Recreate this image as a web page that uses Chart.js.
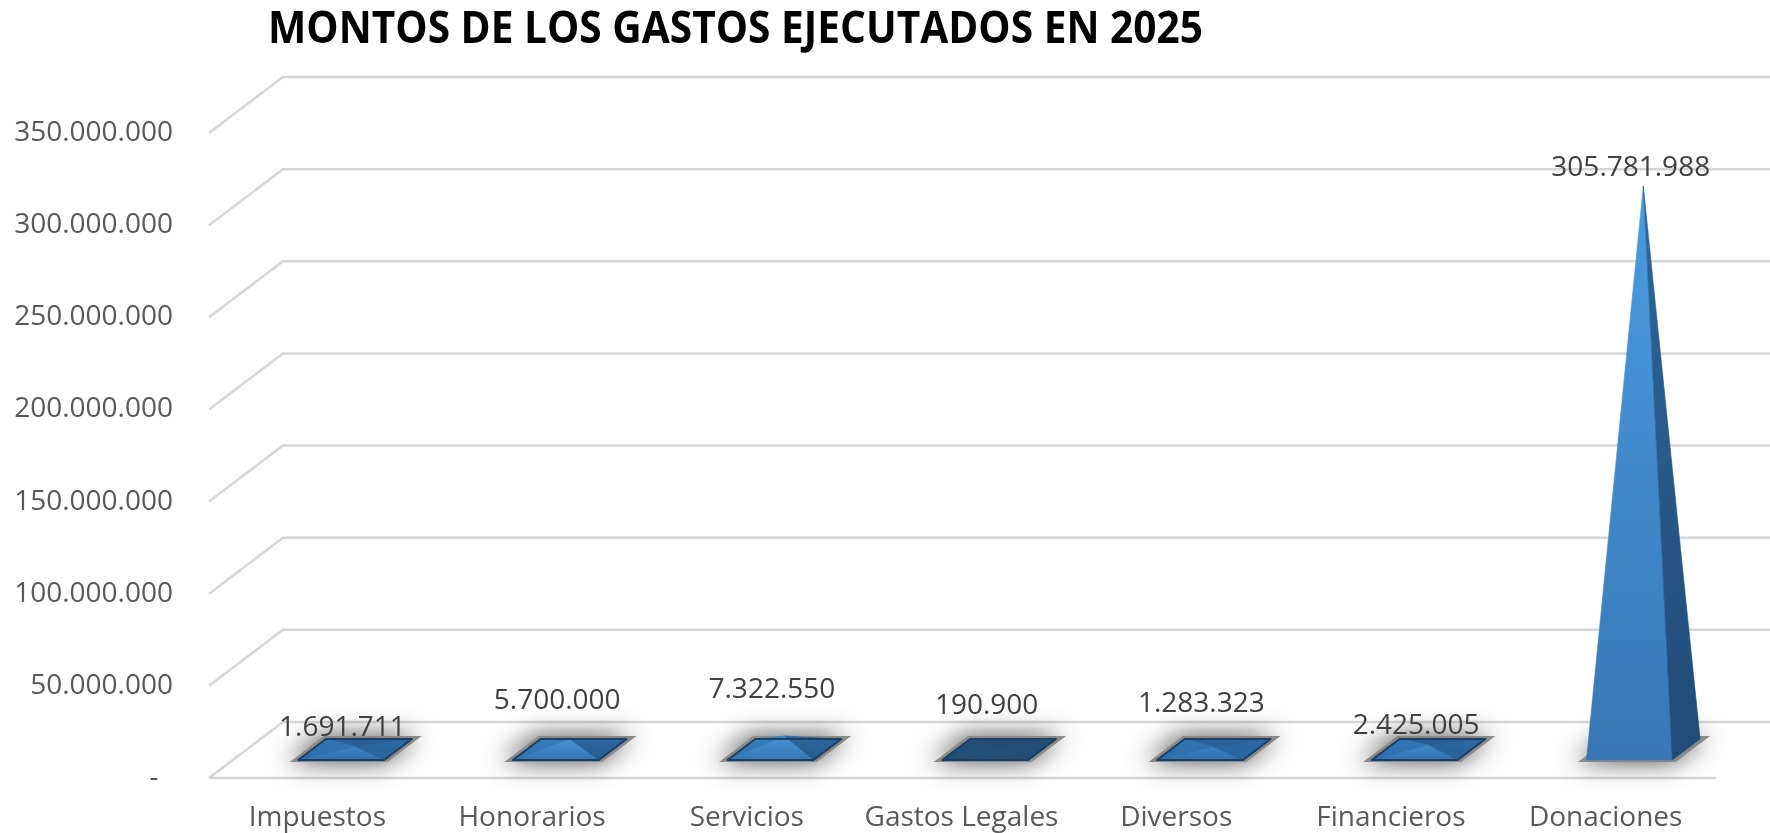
<!DOCTYPE html>
<html>
<head>
<meta charset="utf-8">
<script src="https://cdn.jsdelivr.net/npm/chart.js@4.4.1/dist/chart.umd.min.js"></script>
<style>
html,body{margin:0;padding:0;background:#ffffff;}
#wrap{width:1770px;height:833px;position:relative;}
</style>
</head>
<body>
<div id="wrap"><canvas id="c"></canvas></div>
<script>
// ---- data ----
const chartTitle = 'MONTOS DE LOS GASTOS EJECUTADOS EN 2025';
const categories = ['Impuestos', 'Honorarios', 'Servicios', 'Gastos Legales', 'Diversos', 'Financieros', 'Donaciones'];
const montos = [1691711, 5700000, 7322550, 190900, 1283323, 2425005, 305781988];
const yTickValues = [0, 50000000, 100000000, 150000000, 200000000, 250000000, 300000000, 350000000];

// ---- styling (not data) ----
const labelLift = [47, 66, 74, 72, 72, 47, 46];   // data label distance above value (px)
const DX = 74, DY = 56, KX = DX / DY;              // 3D depth offset
const GRID = '#d6d6d6';
const TITLE_LEFT = 268, TITLE_WIDTH = 935;
const TITLE_FONT = {family: '"Open Sans", sans-serif', size: 45, weight: 'bold', lineHeight: 1.2};

function fmt(v) {
  if (v === 0) return '-  ';
  return String(Math.round(v)).replace(/\B(?=(\d{3})+(?!\d))/g, '.');
}
function hex2rgb(h){h=h.replace('#','');return [parseInt(h.substr(0,2),16),parseInt(h.substr(2,2),16),parseInt(h.substr(4,2),16)];}
function mixRGB(A,B,t){return A.map((x,i)=>x+(B[i]-x)*t);}
function css(c){return 'rgb('+c.map(Math.round).join(',')+')';}
const sub=(a,b)=>[a[0]-b[0],a[1]-b[1],a[2]-b[2]];
const cross=(a,b)=>[a[1]*b[2]-a[2]*b[1],a[2]*b[0]-a[0]*b[2],a[0]*b[1]-a[1]*b[0]];
const dot=(a,b)=>a[0]*b[0]+a[1]*b[1]+a[2]*b[2];

const FLAT = hex2rgb('#2c6aa7');
const DARK = hex2rgb('#1f4468');
const faceColors = {
  front: ['#4a9be2', '#3877b4'].map(hex2rgb),
  right: ['#2e6699', '#214b78'].map(hex2rgb),
  left:  ['#4290d6', '#3375b2'].map(hex2rgb),
  back:  ['#2a5d8e', '#23507e'].map(hex2rgb)
};

const pyramid3d = {
  id: 'pyramid3d',
  afterLayout(chart) {
    const tb = chart.titleBlock;
    if (!tb) return;
    tb.left = TITLE_LEFT;
    if (!tb._squeezed) {
      tb._squeezed = true;
      const orig = tb.draw;
      tb.draw = function () {
        const ctx = this.ctx;
        ctx.save();
        ctx.font = `${TITLE_FONT.weight} ${TITLE_FONT.size}px ${TITLE_FONT.family}`;
        const w = ctx.measureText(chartTitle).width;
        const sx = Math.min(1, TITLE_WIDTH / w);
        ctx.translate(TITLE_LEFT, 0);
        ctx.scale(sx, 1);
        ctx.translate(-TITLE_LEFT, 0);
        orig.apply(this, arguments);
        ctx.restore();
      };
    }
  },
  beforeDatasetsDraw(chart) {
    const {ctx, chartArea, scales} = chart;
    const y = scales.y;
    ctx.save();
    ctx.strokeStyle = GRID;
    ctx.lineWidth = 2.5;
    yTickValues.forEach(v => {
      const yy = y.getPixelForValue(v);
      ctx.beginPath();
      ctx.moveTo(chartArea.left - 1, yy);
      ctx.lineTo(chartArea.left - 1 + DX, yy - DY);
      ctx.lineTo(chart.width, yy - DY);
      ctx.stroke();
    });
    ctx.beginPath();
    ctx.moveTo(chartArea.left - 1, chartArea.bottom);
    ctx.lineTo(chartArea.right + 3, chartArea.bottom);
    ctx.stroke();
    ctx.restore();
  },
  afterDatasetsDraw(chart) {
    const {ctx, chartArea, scales} = chart;
    const x = scales.x, y = scales.y;
    const base = y.getPixelForValue(0);
    const cw = (chartArea.right - chartArea.left) / categories.length;
    const hw = cw * 0.2;
    const z0 = 18, z1 = 39, zc = 28.5;
    const V = [KX, 1, -1];
    ctx.save();
    montos.forEach((v, i) => {
      const cx = x.getPixelForValue(i);
      const h = base - y.getPixelForValue(v);
      const dark = Math.max(0, Math.min(1, 1 - h / 1.5));
      const P = p => [cx + p[0] + p[2] * KX, base - p[1] - p[2]];
      const FL = [-hw, 0, z0], FR = [hw, 0, z0], BR = [hw, 0, z1], BL = [-hw, 0, z1], A = [0, h, zc];
      // soft shadow on floor
      ctx.save();
      ctx.shadowColor = 'rgba(0,0,0,0.7)';
      ctx.shadowBlur = 26;
      ctx.shadowOffsetX = -3;
      ctx.fillStyle = '#8a8a8a';
      ctx.beginPath();
      [[-hw-6,0,z0-2],[hw+6,0,z0-2],[hw+6,0,z1+3],[-hw-6,0,z1+3]].map(P).forEach((q, k) => k ? ctx.lineTo(q[0], q[1]) : ctx.moveTo(q[0], q[1]));
      ctx.closePath();
      ctx.fill();
      ctx.restore();
      // faces
      const faces = [
        {pts: [FL, FR, A], type: 'front'},
        {pts: [FR, BR, A], type: 'right'},
        {pts: [BR, BL, A], type: 'back'},
        {pts: [BL, FL, A], type: 'left'}
      ];
      const pc = [0, h / 4, zc];
      faces.forEach(f => {
        const [a, b, c] = f.pts;
        let n = cross(sub(b, a), sub(c, a));
        const cen = [(a[0]+b[0]+c[0])/3, (a[1]+b[1]+c[1])/3, (a[2]+b[2]+c[2])/3];
        if (dot(n, sub(cen, pc)) < 0) n = n.map(q => -q);
        if (dot(n, V) <= 1e-6) return;
        const len = Math.hypot(n[0], n[1], n[2]);
        const t = Math.sqrt(Math.sqrt(n[0]*n[0] + n[2]*n[2]) / len);
        const cols = faceColors[f.type];
        const sp = f.pts.map(P);
        const topY = Math.min(sp[0][1], sp[1][1], sp[2][1]);
        const botY = Math.max(sp[0][1], sp[1][1], sp[2][1]);
        const g = ctx.createLinearGradient(0, topY, 0, botY + 0.01);
        g.addColorStop(0, css(mixRGB(mixRGB(FLAT, cols[0], t), DARK, dark)));
        g.addColorStop(1, css(mixRGB(mixRGB(FLAT, cols[1], t), DARK, dark)));
        ctx.fillStyle = g;
        ctx.strokeStyle = g;
        ctx.lineWidth = 0.6;
        ctx.beginPath();
        sp.forEach((q, k) => k ? ctx.lineTo(q[0], q[1]) : ctx.moveTo(q[0], q[1]));
        ctx.closePath();
        ctx.fill();
        ctx.stroke();
      });
      if (h < 40) {
        ctx.strokeStyle = '#1d3f64';
        ctx.lineWidth = 2;
        ctx.lineJoin = 'round';
        ctx.beginPath();
        [FL, FR, BR, BL].map(P).forEach((q, k) => k ? ctx.lineTo(q[0], q[1]) : ctx.moveTo(q[0], q[1]));
        ctx.closePath();
        ctx.stroke();
      }
    });
    // data labels
    ctx.font = '28px "Open Sans"';
    ctx.fillStyle = '#404040';
    ctx.textAlign = 'center';
    ctx.textBaseline = 'middle';
    montos.forEach((v, i) => {
      ctx.fillText(fmt(v), x.getPixelForValue(i) + 19 * KX, y.getPixelForValue(v) - labelLift[i]);
    });
    ctx.restore();
  }
};

function build() {
  new Chart(document.getElementById('c'), {
    type: 'bar',
    data: {
      labels: categories,
      datasets: [{
        label: 'Montos',
        data: montos,
        backgroundColor: 'rgba(0,0,0,0)',
        borderWidth: 0
      }]
    },
    options: {
      responsive: true,
      maintainAspectRatio: false,
      animation: false,
      events: [],
      layout: {padding: {left: 0, right: 57, top: 0, bottom: 0}},
      plugins: {
        legend: {display: false},
        tooltip: {enabled: false},
        title: {
          display: true,
          text: chartTitle,
          align: 'start',
          color: '#000000',
          font: TITLE_FONT,
          padding: {top: 3.5, bottom: 75.5}
        }
      },
      scales: {
        x: {
          grid: {display: false, drawTicks: false},
          border: {display: false},
          ticks: {color: '#595959', font: {family: '"Open Sans"', size: 28}, padding: 23, maxRotation: 0, autoSkip: false},
          afterFit(s) { s.height = 55; }
        },
        y: {
          min: 0,
          max: 350000000,
          grid: {display: false, drawTicks: false},
          border: {display: false},
          afterBuildTicks(s) { s.ticks = yTickValues.map(v => ({value: v})); },
          ticks: {color: '#595959', font: {family: '"Open Sans"', size: 28}, padding: 37, callback: v => fmt(v)},
          afterFit(s) { s.width = 210; }
        }
      }
    },
    plugins: [pyramid3d]
  });
}
const fl = document.fonts ? Promise.all([
  document.fonts.load('28px "Open Sans"'),
  document.fonts.load('bold 45px "Open Sans"')
]).catch(() => {}) : Promise.resolve();
Promise.race([fl, new Promise(r => setTimeout(r, 1500))]).then(build);
</script>
</body>
</html>
